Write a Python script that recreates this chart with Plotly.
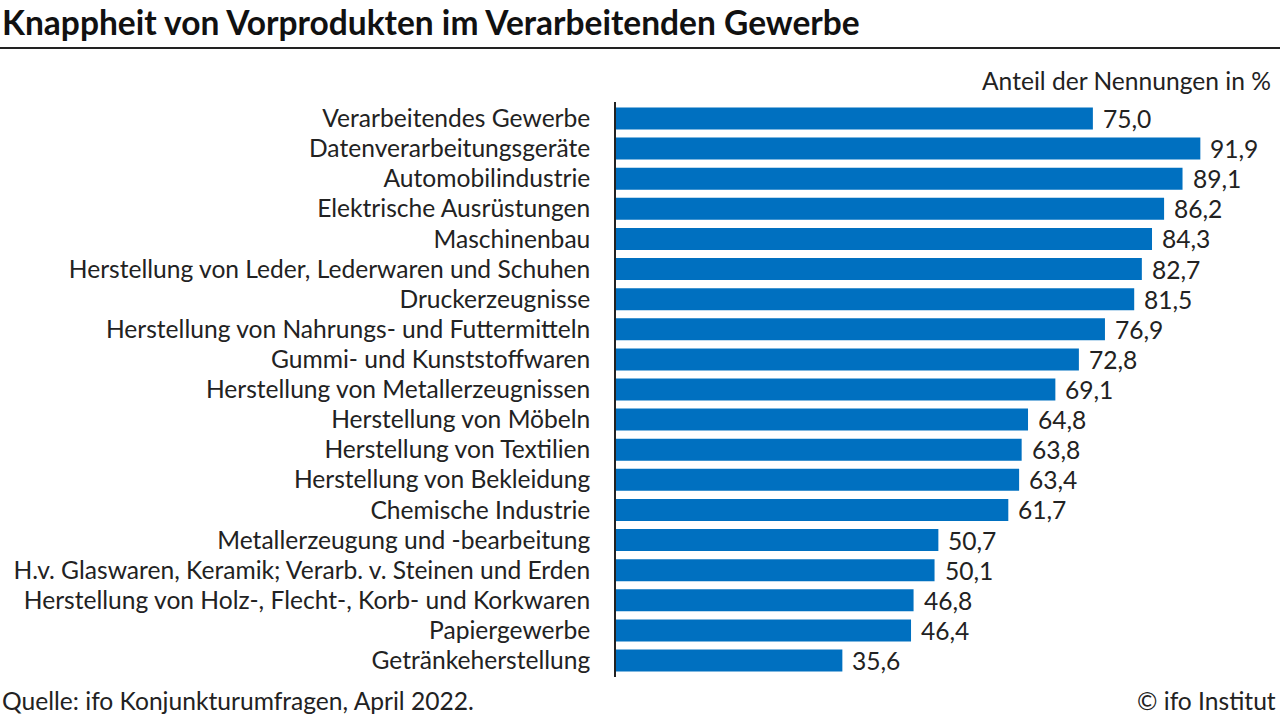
import plotly.graph_objs as go

categories = [
    'Verarbeitendes Gewerbe',
    'Datenverarbeitungsgeräte',
    'Automobilindustrie',
    'Elektrische Ausrüstungen',
    'Maschinenbau',
    'Herstellung von Leder, Lederwaren und Schuhen',
    'Druckerzeugnisse',
    'Herstellung von Nahrungs- und Futtermitteln',
    'Gummi- und Kunststoffwaren',
    'Herstellung von Metallerzeugnissen',
    'Herstellung von Möbeln',
    'Herstellung von Textilien',
    'Herstellung von Bekleidung',
    'Chemische Industrie',
    'Metallerzeugung und -bearbeitung',
    'H.v. Glaswaren, Keramik; Verarb. v. Steinen und Erden',
    'Herstellung von Holz-, Flecht-, Korb- und Korkwaren',
    'Papiergewerbe',
    'Getränkeherstellung',
]
values = [75.0, 91.9, 89.1, 86.2, 84.3, 82.7, 81.5, 76.9, 72.8, 69.1,
          64.8, 63.8, 63.4, 61.7, 50.7, 50.1, 46.8, 46.4, 35.6]

FONT = 'Lato'
SIZE = 24.6
BLUE = '#0070C0'
TXT = '#222222'

fig = go.Figure(go.Bar(
    x=values,
    y=categories,
    orientation='h',
    marker=dict(color=BLUE, line=dict(width=0)),
    width=0.73,
))

fig.update_layout(
    width=1280,
    height=720,
    margin=dict(l=616, r=4, t=102, b=43),
    paper_bgcolor='white',
    plot_bgcolor='white',
    showlegend=False,
    font=dict(family=FONT, size=SIZE, color=TXT),
    xaxis=dict(range=[0, 103.8], visible=False, fixedrange=True),
    yaxis=dict(autorange='reversed', showline=True, linecolor=TXT, linewidth=1.5,
               ticks='', ticklabelstandoff=19, showgrid=False, fixedrange=True,
               tickfont=dict(size=SIZE, color=TXT, family=FONT)),
)

# value labels next to the bars
for c, v in zip(categories, values):
    fig.add_annotation(x=v, y=c, xref='x', yref='y',
                       text=f'{v:.1f}'.replace('.', ','),
                       showarrow=False, xanchor='left', xshift=8,
                       font=dict(size=SIZE, color=TXT, family=FONT))

# pixel helpers for texts outside the plot area
pw = 1280 - 616 - 4
ph = 720 - 102 - 43
def px(x):
    return (x - 616) / pw
def py(y):
    return (720 - 43 - y) / ph

fig.add_annotation(text='<b>Knappheit von Vorprodukten im Verarbeitenden Gewerbe</b>',
                   xref='paper', yref='paper', x=px(0), y=py(22),
                   xanchor='left', yanchor='middle', showarrow=False,
                   font=dict(size=33.5, color='#111111', family=FONT))
fig.add_shape(type='line', xref='paper', yref='paper', x0=px(0), x1=px(1280),
              y0=py(48), y1=py(48), line=dict(color=TXT, width=2))
fig.add_annotation(text='Anteil der Nennungen in %', xref='paper', yref='paper',
                   x=px(1273), y=py(80), xanchor='right', yanchor='middle',
                   showarrow=False, font=dict(size=SIZE, color=TXT, family=FONT))
fig.add_annotation(text='Quelle: ifo Konjunkturumfragen, April 2022.', xref='paper', yref='paper',
                   x=px(0), y=py(700), xanchor='left', yanchor='middle',
                   showarrow=False, font=dict(size=SIZE, color=TXT, family=FONT))
fig.add_annotation(text='© ifo Institut', xref='paper', yref='paper',
                   x=px(1278), y=py(700), xanchor='right', yanchor='middle',
                   showarrow=False, font=dict(size=SIZE, color=TXT, family=FONT))

fig.write_html('out.html', config=dict(displayModeBar=False),
               post_script="document.body.style.margin='0';")
